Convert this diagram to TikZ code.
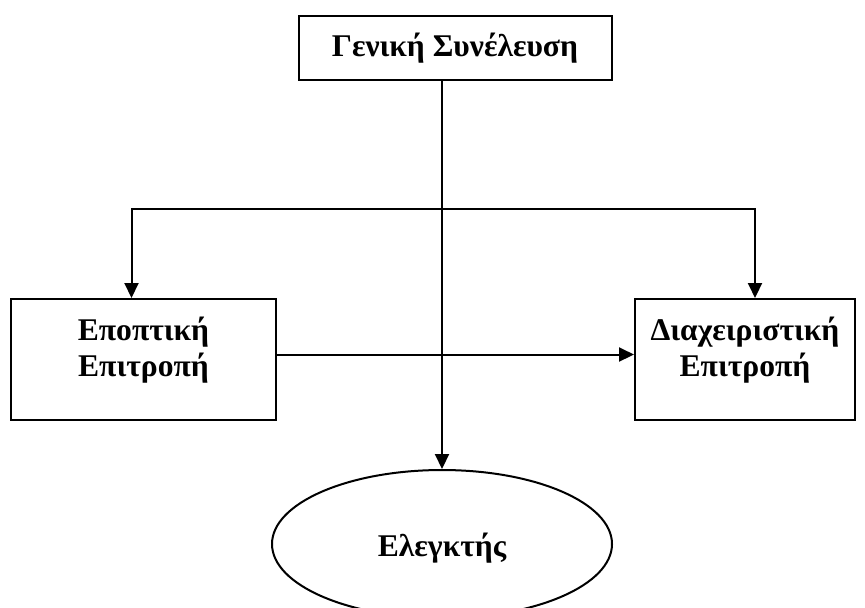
\documentclass[tikz,border=0pt]{standalone}
\usepackage{fontspec}
\setmainfont{Liberation Serif}
\usepackage{tikz}
\usetikzlibrary{calc,shapes.geometric,arrows.meta}

\begin{document}
\begin{tikzpicture}[x=0.5pt,y=-0.5pt,line width=1pt,>={Triangle[width=7pt,length=7.5pt]}]
        \tikzstyle{every node}=[draw,align=center,inner sep=0pt,font=\bfseries\fontsize{15.8}{18}\selectfont]
        \tikzstyle{every label}=[draw=none]
        \useasboundingbox (0,0) rectangle (865,607);
        \node[minimum width=156.5pt,minimum height=32pt] (1) at (455,48) {Γενική Συνέλευση};
        \node[minimum width=132.5pt,minimum height=60.5pt,
              label={[yshift=4.5pt]center:{Εποπτική\\Επιτροπή}}] (2) at (143.5,359.5) {};
        \node[minimum width=110pt,minimum height=60.5pt,
              label={[yshift=4.5pt]center:{Διαχειριστική\\Επιτροπή}}] (3) at (745,359.5) {};
        \node[ellipse,minimum width=170pt,minimum height=74pt,
              label={[yshift=-2pt]center:Ελεγκτής}] (4) at (442,544) {};
        \coordinate (5) at (442,209);

        \draw[->] (1.south -| 4.north) to (4.north);
        \draw[->] (5) -| ($(2.north)+(-12,0)$);
        \draw[->] (5) -| ($(3.north)+(10,0)$);
        \draw[->] ($(2.east)+(0,-5)$) to ($(3.west)+(0,-5)$);
\end{tikzpicture}
\end{document}
